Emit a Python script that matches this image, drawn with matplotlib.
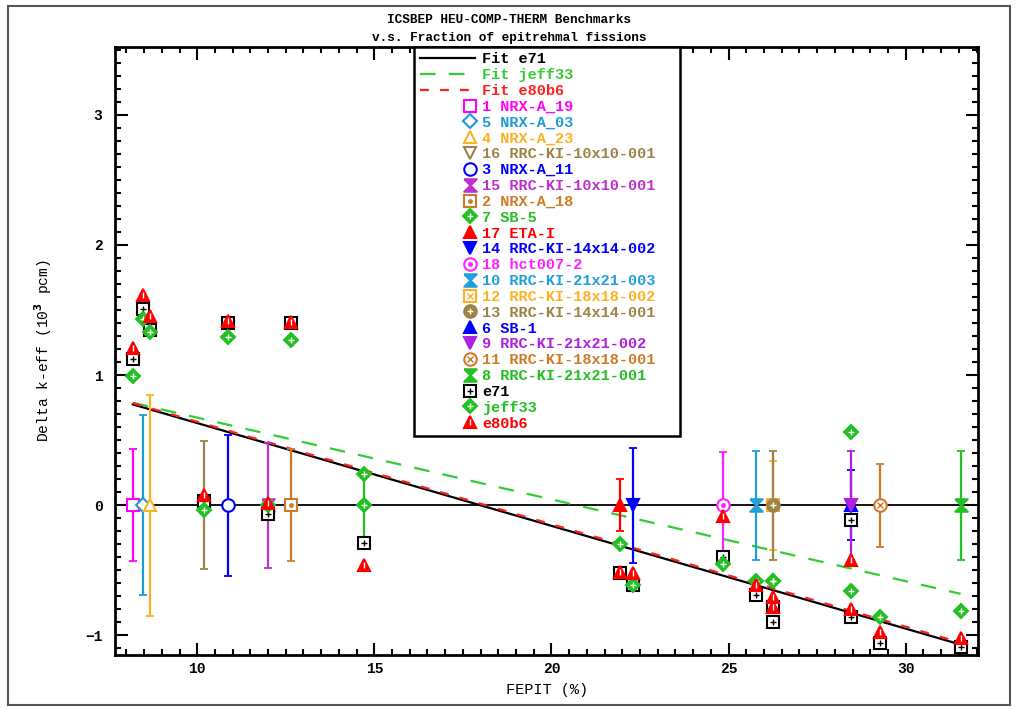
import numpy as np
import matplotlib
matplotlib.use('Agg')
import matplotlib.pyplot as plt
from matplotlib.legend_handler import HandlerLine2D
from matplotlib.patches import Rectangle

plt.rcParams['font.family'] = ['Liberation Mono', 'DejaVu Sans Mono']
plt.rcParams['font.weight'] = 'bold'

# benchmarks, in legend order
names = ['1 NRX-A_19', '5 NRX-A_03', '4 NRX-A_23', '16 RRC-KI-10x10-001',
         '3 NRX-A_11', '15 RRC-KI-10x10-001', '2 NRX-A_18', '7 SB-5',
         '17 ETA-I', '14 RRC-KI-14x14-002', '18 hct007-2',
         '10 RRC-KI-21x21-003', '12 RRC-KI-18x18-002', '13 RRC-KI-14x14-001',
         '6 SB-1', '9 RRC-KI-21x21-002', '11 RRC-KI-18x18-001',
         '8 RRC-KI-21x21-001']
fepit = [8.18, 8.48, 8.66, 10.19, 10.87, 12.0, 12.66, 14.72, 21.94, 22.3,
         24.85, 25.77, 26.26, 26.26, 28.45, 28.45, 29.27, 31.55]
bench_dk = [0, 0, 0, 0, 0, 0, 0, 0, 0, 0, 0, 0, 0, 0, 0, 0, 0, 0]
bench_unc = [0.43, 0.69, 0.85, 0.49, 0.54, 0.48, 0.43, 0.27, 0.20, 0.44,
             0.41, 0.42, 0.34, 0.42, 0.27, 0.42, 0.32, 0.42]

# calculated minus benchmark (10^3 pcm)
e71 = [1.12, 1.51, 1.35, 0.03, 1.40, -0.065, 1.40, -0.29, -0.52, -0.615,
       -0.40, -0.69, -0.78, -0.90, -0.11, -0.855, -1.06, -1.09]
jeff33 = [0.99, 1.43, 1.33, -0.04, 1.295, 0.0, 1.27, 0.24, -0.30, -0.615,
          -0.45, -0.58, -0.585, -0.585, 0.565, -0.655, -0.86, -0.81]
e80b6 = [1.205, 1.615, 1.455, 0.075, 1.415, 0.02, 1.405, -0.46, -0.515,
         -0.52, -0.08, -0.615, -0.705, -0.78, -0.42, -0.80, -0.975, -1.02]

# linear fits: slope, intercept
fit_names = ['Fit e71', 'Fit jeff33', 'Fit e80b6']
fit_slope = [-0.07895, -0.0628, -0.07873]
fit_intercept = [1.4208, 1.301, 1.429]

HOUR = [(-1, 1), (1, 1), (-1, -1), (1, -1), (-1, 1)]

bench_colors = ['#ff00ff', '#1e9bd7', '#ffb020', '#9c8448', '#0000ff',
                '#c030d0', '#d07a28', '#22c022', '#ff0000', '#0000ff',
                '#ff20ff', '#20a0d8', '#ffb020', '#9c8448', '#0000ff',
                '#b020e0', '#d07a28', '#22c022']
bench_markers = ['s', 'D', '^', 'v', 'o', HOUR, 's', 'D', '^', 'v', 'o',
                 HOUR, 's', 'o', '^', 'v', 'o', HOUR]
bench_filled = [False, False, False, False, False, True, False, True, True,
                True, False, True, False, True, True, True, False, True]
bench_inner = [None, None, None, None, None, None, '.', '+', None, None,
               '.', None, 'x', '+', None, None, 'x', None]


class RightMarker(HandlerLine2D):
    def get_xdata(self, legend, xdescent, ydescent, width, height, fontsize):
        x = -xdescent + width - 0.3 * fontsize
        return np.array([x, x]), np.array([x])


fig = plt.figure(figsize=(10.18, 7.09), dpi=100)
ax = fig.add_axes([0.113, 0.0762, 0.848, 0.8575])

ax.axhline(0, color='black', lw=1.3, zorder=1)

x0, x1 = min(fepit), max(fepit)
xs = np.array([x0, x1])
fit_handles = []
for name, s, b, c, ls in zip(fit_names, fit_slope, fit_intercept,
                             ['black', '#33cc33', '#ff2020'],
                             ['-', (0, (7, 6)), (0, (4, 5))]):
    h, = ax.plot(xs, s * xs + b, color=c, ls=ls, lw=1.6, label=name, zorder=2)
    fit_handles.append(h)

handler_map = {}
bench_handles = []
for i in range(len(names)):
    c = bench_colors[i]
    ax.errorbar(fepit[i], bench_dk[i], yerr=bench_unc[i], fmt='none',
                ecolor=c, elinewidth=1.6, capsize=3, capthick=1.3, zorder=3)
    ms = 7 if bench_markers[i] == 'D' else 9
    fc = c if bench_filled[i] else 'white'
    h, = ax.plot(fepit[i], bench_dk[i], ls='none', marker=bench_markers[i],
                 ms=ms, mfc=fc, mec=c, mew=1.5, zorder=4)
    handler_map[h] = RightMarker()
    if bench_inner[i] is not None:
        ic = 'white' if bench_filled[i] else c
        h2, = ax.plot(fepit[i], bench_dk[i], ls='none', marker=bench_inner[i],
                      ms=5, color=ic, mew=1.0, zorder=4)
        handler_map[h2] = RightMarker()
        h = (h, h2)
    bench_handles.append(h)

calc_sets = [('e71', e71, 'black', 's', '+', False),
             ('jeff33', jeff33, '#22c022', 'D', '+', True),
             ('e80b6', e80b6, '#ff0000', '^', '|', True)]
calc_handles = []
for name, vals, c, m, inner, filled in calc_sets:
    ms = 7 if m == 'D' else 9
    z = 6 if name == 'e80b6' else 5
    h, = ax.plot(fepit, vals, ls='none', marker=m, ms=ms,
                 mfc=c if filled else 'white', mec=c, mew=1.5, zorder=z)
    h2, = ax.plot(fepit, vals, ls='none', marker=inner, ms=5,
                  color='white' if filled else c, mew=1.0, zorder=z)
    handler_map[h] = RightMarker()
    handler_map[h2] = RightMarker()
    calc_handles.append((h, h2))

ax.set_xlim(7.68, 32.05)
ax.set_ylim(-1.15, 3.52)
ax.set_xticks([10, 15, 20, 25, 30])
ax.set_xticks(np.arange(8, 32.01, 0.5), minor=True)
ax.set_yticks([-1, 0, 1, 2, 3])
ax.set_yticks(np.arange(-1.1, 3.51, 0.1), minor=True)
ax.tick_params(which='both', direction='in', top=True, right=True, width=1.5)
ax.tick_params(which='major', length=9, labelsize=10.5)
ax.tick_params(axis='x', which='major', pad=5)
ax.tick_params(axis='y', which='major', pad=9)
ax.tick_params(which='minor', length=4)
for sp in ax.spines.values():
    sp.set_linewidth(2)

ax.set_xlabel('FEPIT (%)', fontsize=11, labelpad=5)
ax.set_ylabel('Delta k-eff (10$^{\\mathbf{3}}$ pcm)', fontsize=10.5, labelpad=22)

fig.text(0.5, 0.972, 'ICSBEP HEU-COMP-THERM Benchmarks', ha='center',
         va='center', fontsize=9.2)
fig.text(0.5, 0.946, 'v.s. Fraction of epitrehmal fissions', ha='center',
         va='center', fontsize=9.2)

handles = fit_handles + bench_handles + calc_handles
labels = fit_names + names + ['e71', 'jeff33', 'e80b6']
text_colors = ['black', '#33cc33', '#ff2020'] + bench_colors + \
    ['black', '#22c022', '#ff0000']
leg = ax.legend(handles, labels, loc='upper left',
                bbox_to_anchor=(0.3465, 0, 0.3085, 1.0), mode='expand',
                borderaxespad=0, fontsize=11, labelspacing=0.12,
                handlelength=3.6, handletextpad=0.5, borderpad=0.35,
                fancybox=False, framealpha=1, edgecolor='black',
                handler_map=handler_map)
leg.get_frame().set_linewidth(1.8)
leg.set_zorder(10)
for t, c in zip(leg.get_texts(), text_colors):
    t.set_color(c)

fig.add_artist(Rectangle((0.008, 0.005), 0.984, 0.986, transform=fig.transFigure,
                         fill=False, edgecolor='#555555', lw=1.5))

fig.savefig('out.png', dpi=100)
